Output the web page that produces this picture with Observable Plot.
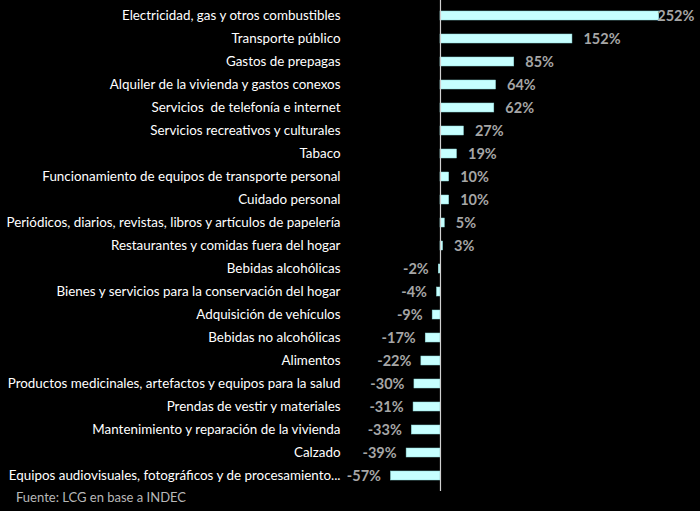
<!DOCTYPE html>
<html><head><meta charset="utf-8">
<script src="https://cdn.jsdelivr.net/npm/d3@7"></script>
<script src="https://cdn.jsdelivr.net/npm/@observablehq/plot@0.6"></script>
<style>
html,body{margin:0;padding:0;background:#000;}
#chart{width:700px;height:511px;background:#000;position:relative;}
#cap{position:absolute;left:16px;top:489px;font-family:Lato,"Open Sans",sans-serif;font-size:13px;color:#b8b8b8;}
</style></head>
<body><div id="chart"><div id="cap">Fuente: LCG en base a INDEC</div></div>
<script>
const categories = [
  "Electricidad, gas y otros combustibles",
  "Transporte público",
  "Gastos de prepagas",
  "Alquiler de la vivienda y gastos conexos",
  "Servicios  de telefonía e internet",
  "Servicios recreativos y culturales",
  "Tabaco",
  "Funcionamiento de equipos de transporte personal",
  "Cuidado personal",
  "Periódicos, diarios, revistas, libros y artículos de papelería",
  "Restaurantes y comidas fuera del hogar",
  "Bebidas alcohólicas",
  "Bienes y servicios para la conservación del hogar",
  "Adquisición de vehículos",
  "Bebidas no alcohólicas",
  "Alimentos",
  "Productos medicinales, artefactos y equipos para la salud",
  "Prendas de vestir y materiales",
  "Mantenimiento y reparación de la vivienda",
  "Calzado",
  "Equipos audiovisuales, fotográficos y de procesamiento..."
];
const values = [252, 152, 85, 64, 62, 27, 19, 10, 10, 5, 3, -2, -4, -9, -17, -22, -30, -31, -33, -39, -57];
const data = categories.map((c, i) => ({cat: c, v: values[i], label: values[i] + "%"}));
const maxV = d3.max(values);

const font = 'Lato, "Open Sans", sans-serif';
const chart = Plot.plot({
  width: 700,
  height: 491,
  marginLeft: 345,
  marginRight: 0,
  marginTop: 0,
  marginBottom: 0,
  style: {background: "#000", color: "#fff", fontFamily: font},
  x: {domain: [-109.4, 299.5], axis: null},
  y: {domain: categories, paddingInner: 0.61, paddingOuter: 0.364, label: null},
  marks: [
    Plot.axisY({tickSize: 0, tickPadding: 5, fontSize: 13.4, fill: "#fff", label: null}),
    Plot.barX(data, {x: "v", y: "cat", fill: "#c6ffff", stroke: "#8fd8d8", strokeWidth: 0.5}),
    Plot.ruleX([0], {stroke: "#d0d0d0", strokeWidth: 1.2}),
    Plot.text(data.filter(d => d.v > 0 && d.v < maxV), {x: "v", y: "cat", text: "label", textAnchor: "start", dx: 11, fill: "#a6a6a6", fontWeight: "bold", fontSize: 14.5}),
    Plot.text(data.filter(d => d.v === maxV), {x: "v", y: "cat", text: "label", textAnchor: "start", dx: -2, fill: "#a6a6a6", fontWeight: "bold", fontSize: 14.5}),
    Plot.text(data.filter(d => d.v < 0), {x: "v", y: "cat", text: "label", textAnchor: "end", dx: -10, fill: "#a6a6a6", fontWeight: "bold", fontSize: 14.5})
  ]
});
document.getElementById("chart").prepend(chart);
</script>
</body></html>
